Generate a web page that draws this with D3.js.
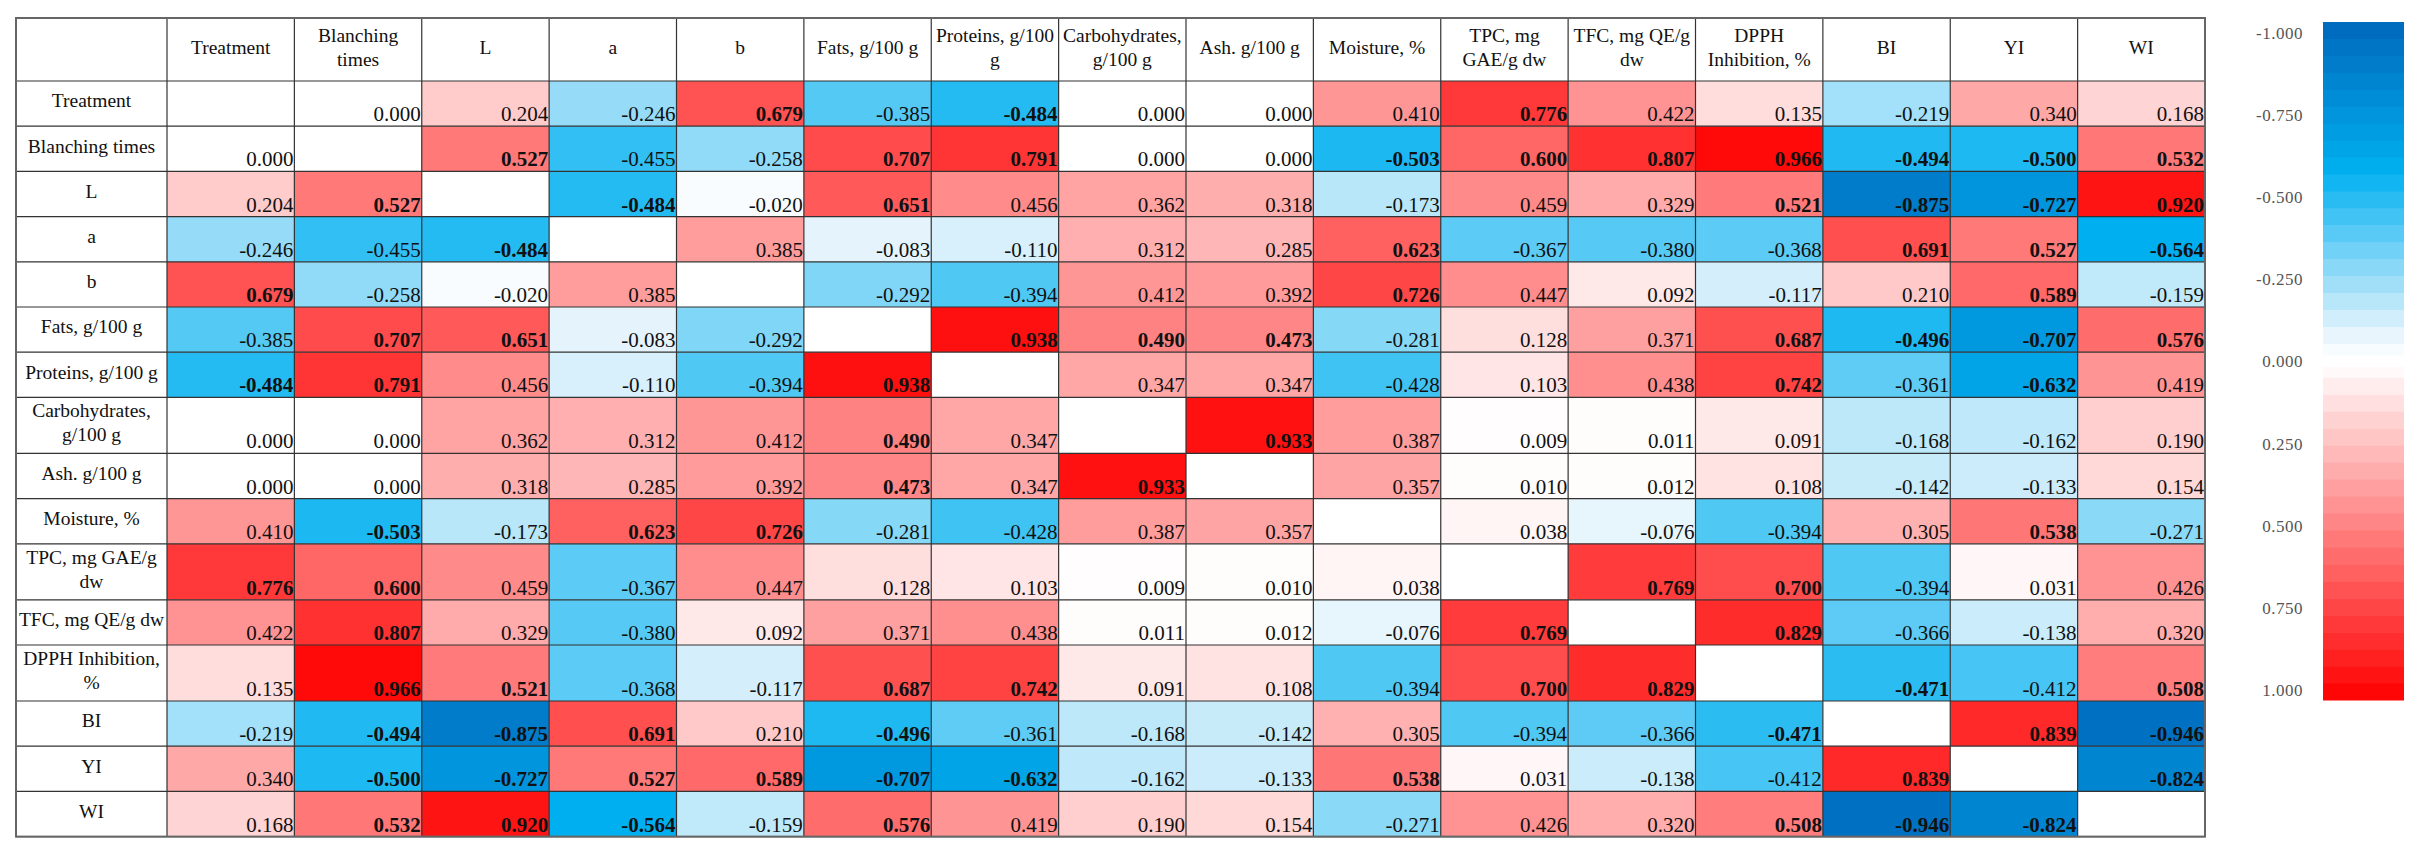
<!DOCTYPE html>
<html><head><meta charset="utf-8">
<script src="https://cdn.jsdelivr.net/npm/d3@7"></script>
<style>body{margin:0;background:#fff}svg{display:block}</style>
</head><body>
<script>
const colLabels = ["Treatment","Blanching|times","L","a","b","Fats, g/100 g","Proteins, g/100|g","Carbohydrates,|g/100 g","Ash. g/100 g","Moisture, %","TPC, mg|GAE/g dw","TFC, mg QE/g|dw","DPPH|Inhibition, %","BI","YI","WI"];
const rowLabels = ["Treatment","Blanching times","L","a","b","Fats, g/100 g","Proteins, g/100 g","Carbohydrates,|g/100 g","Ash. g/100 g","Moisture, %","TPC, mg GAE/g|dw","TFC, mg QE/g dw","DPPH Inhibition,|%","BI","YI","WI"];
const N = null;
const matrix = [
[N,0.000,0.204,-0.246,0.679,-0.385,-0.484,0.000,0.000,0.410,0.776,0.422,0.135,-0.219,0.340,0.168],
[0.000,N,0.527,-0.455,-0.258,0.707,0.791,0.000,0.000,-0.503,0.600,0.807,0.966,-0.494,-0.500,0.532],
[0.204,0.527,N,-0.484,-0.020,0.651,0.456,0.362,0.318,-0.173,0.459,0.329,0.521,-0.875,-0.727,0.920],
[-0.246,-0.455,-0.484,N,0.385,-0.083,-0.110,0.312,0.285,0.623,-0.367,-0.380,-0.368,0.691,0.527,-0.564],
[0.679,-0.258,-0.020,0.385,N,-0.292,-0.394,0.412,0.392,0.726,0.447,0.092,-0.117,0.210,0.589,-0.159],
[-0.385,0.707,0.651,-0.083,-0.292,N,0.938,0.490,0.473,-0.281,0.128,0.371,0.687,-0.496,-0.707,0.576],
[-0.484,0.791,0.456,-0.110,-0.394,0.938,N,0.347,0.347,-0.428,0.103,0.438,0.742,-0.361,-0.632,0.419],
[0.000,0.000,0.362,0.312,0.412,0.490,0.347,N,0.933,0.387,0.009,0.011,0.091,-0.168,-0.162,0.190],
[0.000,0.000,0.318,0.285,0.392,0.473,0.347,0.933,N,0.357,0.010,0.012,0.108,-0.142,-0.133,0.154],
[0.410,-0.503,-0.173,0.623,0.726,-0.281,-0.428,0.387,0.357,N,0.038,-0.076,-0.394,0.305,0.538,-0.271],
[0.776,0.600,0.459,-0.367,0.447,0.128,0.103,0.009,0.010,0.038,N,0.769,0.700,-0.394,0.031,0.426],
[0.422,0.807,0.329,-0.380,0.092,0.371,0.438,0.011,0.012,-0.076,0.769,N,0.829,-0.366,-0.138,0.320],
[0.135,0.966,0.521,-0.368,-0.117,0.687,0.742,0.091,0.108,-0.394,0.700,0.829,N,-0.471,-0.412,0.508],
[-0.219,-0.494,-0.875,0.691,0.210,-0.496,-0.361,-0.168,-0.142,0.305,-0.394,-0.366,-0.471,N,0.839,-0.946],
[0.340,-0.500,-0.727,0.527,0.589,-0.707,-0.632,-0.162,-0.133,0.538,0.031,-0.138,-0.412,0.839,N,-0.824],
[0.168,0.532,0.920,-0.564,-0.159,0.576,0.419,0.190,0.154,-0.271,0.426,0.320,0.508,-0.946,-0.824,N]
];
const legendTicks = [-1,-0.75,-0.5,-0.25,0,0.25,0.5,0.75,1];

(function(){
const W=2419,H=850;
const svg=d3.select("body").append("svg").attr("width",W).attr("height",H);
const font="'Liberation Serif','DejaVu Serif',serif";

const blue=d3.scaleLinear().domain([0,-0.08,-0.56,-1]).range(["#ffffff","#e6f4fc","#00b0f0","#0068bc"]).clamp(true);
const color=v=>{
  if(v===0) return "#ffffff";
  if(v>0) return d3.interpolateRgb("#ffffff","#ff0000")(Math.min(1,v));
  return blue(v);
};

const tLeft=16, firstW=151, tRight=2205, tTop=18, headH=63;
const x=d3.scaleBand().domain(d3.range(16)).range([tLeft+firstW,tRight]);
const rowH=rowLabels.map(r=>r.includes("|")?56:45.2);
const yPos=[tTop+headH]; rowH.forEach((h,i)=>yPos.push(yPos[i]+h));
const y=i=>yPos[i];
const tBottom=yPos[16];

const g=svg.append("g");
matrix.forEach((row,i)=>row.forEach((v,j)=>{
  g.append("rect").attr("x",x(j)).attr("y",y(i)).attr("width",x.bandwidth()).attr("height",rowH[i])
    .attr("fill",v===null?"#fff":color(v));
  if(v!==null){
    g.append("text").attr("x",x(j)+x.bandwidth()-1).attr("y",y(i)+rowH[i]-5)
      .attr("text-anchor","end").attr("font-family",font).attr("font-size",21)
      .attr("font-weight",Math.abs(v)>=0.47?"bold":"normal").attr("fill","#111")
      .text(v.toFixed(3));
  }
}));
const lineC="#333";
yPos.concat([tTop]).forEach(yy=>g.append("line").attr("x1",tLeft).attr("x2",tRight).attr("y1",yy).attr("y2",yy).attr("stroke",lineC).attr("stroke-width",1.2));
[tLeft].concat(d3.range(17).map(j=>j<16?x(j):tRight)).forEach(xx=>g.append("line").attr("x1",xx).attr("x2",xx).attr("y1",tTop).attr("y2",tBottom).attr("stroke",lineC).attr("stroke-width",1.2));
g.append("rect").attr("x",tLeft).attr("y",tTop).attr("width",tRight-tLeft).attr("height",tBottom-tTop).attr("fill","none").attr("stroke","#666").attr("stroke-width",2);

function multi(sel,label,cx,cy,lh){
  const parts=label.split("|");
  const t=sel.append("text").attr("x",cx).attr("text-anchor","middle").attr("font-family",font).attr("font-size",19.5).attr("fill","#111");
  parts.forEach((p,k)=>t.append("tspan").attr("x",cx).attr("y",cy+(k-(parts.length-1)/2)*lh).attr("dy","0.35em").text(p));
}
colLabels.forEach((c,j)=>multi(g,c,x(j)+x.bandwidth()/2,tTop+headH/2-2,24));
rowLabels.forEach((r,i)=>multi(g,r,tLeft+firstW/2,y(i)+rowH[i]/2-3,24));

const lx=2323, lw=81, lTop=22, lBot=700;
const ly=d3.scaleLinear().domain([-1,1]).range([lTop,lBot]);
const steps=20, gap=6;
for(let k=0;k<steps;k++){
  const a=-1+k/steps, b=-1+(k+1)/steps;
  g.append("rect").attr("x",lx).attr("y",ly(a)).attr("width",lw).attr("height",ly(b)-ly(a)-(k===steps-1?gap:0)+0.5).attr("fill",color((a+b)/2));
  const a2=k/steps, b2=(k+1)/steps;
  g.append("rect").attr("x",lx).attr("y",ly(a2)+(k===0?gap:0)).attr("width",lw).attr("height",ly(b2)-ly(a2)-(k===0?gap:0)+0.5).attr("fill",color((a2+b2)/2));
}
const tickY=d3.scaleLinear().domain([-1,1]).range([33,690]);
legendTicks.forEach(t=>g.append("text").attr("x",2303).attr("y",tickY(t)).attr("dy","0.35em").attr("text-anchor","end")
  .attr("font-family",font).attr("font-size",17).attr("letter-spacing",0.5).attr("fill","#555").text(t.toFixed(3)));
})();
</script>
</body></html>
